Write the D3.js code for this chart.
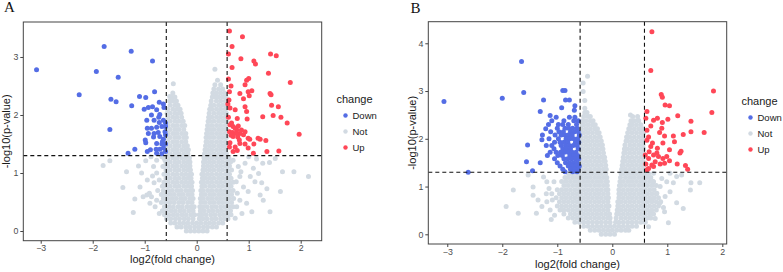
<!DOCTYPE html>
<html>
<head>
<meta charset="utf-8">
<script src="https://cdn.jsdelivr.net/npm/d3@7"></script>
<style>
  html, body { margin: 0; padding: 0; background: #fff; }
  svg { display: block; font-family: "Liberation Sans", Arial, Helvetica, sans-serif; }
</style>
</head>
<body>
<svg id="chart" width="783" height="272"></svg>
<script>
// ---------------- data ----------------
const changeLevels = ["Down", "Not", "Up"];
const xTicks = [-3, -2, -1, 0, 1, 2];
const yTicksA = [0, 1, 2, 3];
const yTicksB = [0, 1, 2, 3, 4];
const fcCut = 0.585;   // |log2 FC| threshold
const pCut = 1.3;      // -log10(0.05)

// panel A
const downA = [
  [-3.08, 2.78], [-1.78, 3.18], [-1.26, 3.10], [-0.85, 2.93], [-1.93, 2.75], [-1.51, 2.65],
  [-2.26, 2.35], [-1.65, 2.27], [-1.55, 2.23], [-1.25, 2.16], [-1.10, 2.32], [-0.98, 2.30],
  [-0.81, 2.40], [-1.67, 1.75], [-1.32, 1.34], [-1.19, 1.41],
  [-1.01, 2.10], [-0.93, 2.13], [-0.85, 2.14], [-0.72, 2.22], [-0.64, 2.19], [-0.63, 2.13],
  [-0.77, 2.09], [-0.71, 2.01], [-0.87, 2.00], [-0.82, 1.91], [-0.96, 1.91], [-0.64, 1.91],
  [-0.77, 1.79], [-0.67, 1.80], [-0.95, 1.77], [-0.87, 1.77], [-0.74, 1.70], [-0.61, 1.71],
  [-0.83, 1.62], [-0.71, 1.63], [-0.64, 1.58], [-0.99, 1.57], [-0.98, 1.52], [-0.77, 1.51],
  [-0.67, 1.50], [-0.60, 1.50], [-0.89, 1.40], [-0.95, 1.37], [-0.78, 1.41], [-0.71, 1.41],
  [-0.64, 1.43], [-0.60, 1.37], [-0.77, 1.34], [-0.67, 1.33], [-0.60, 1.66], [-0.66, 1.54],
  [-0.60, 1.80], [-0.93, 1.68], [-0.82, 1.68], [-0.72, 1.87], [-0.60, 1.86], [-0.73, 1.96]
];
const upA = [
  [0.63, 3.45], [0.88, 3.35], [0.68, 3.18], [0.61, 3.05], [0.85, 2.97], [0.68, 2.82],
  [0.61, 2.62], [0.96, 2.60], [1.00, 2.63], [0.93, 2.52], [0.66, 2.50], [0.63, 2.40],
  [0.83, 2.37], [0.99, 2.40], [0.90, 2.28], [0.62, 2.26], [0.60, 2.19], [0.64, 2.12],
  [0.74, 2.09], [0.93, 2.14], [0.96, 2.06], [0.78, 1.94], [0.97, 1.93], [0.61, 1.96],
  [0.64, 1.83], [0.70, 1.80], [0.77, 1.74], [0.63, 1.71], [0.69, 1.70], [0.83, 1.68],
  [0.90, 1.66], [0.70, 1.63], [0.79, 1.62], [0.64, 1.52], [0.83, 1.51], [0.99, 1.60],
  [1.10, 1.50], [1.18, 1.60], [1.02, 1.58], [0.74, 1.45], [0.78, 1.39], [0.93, 1.50],
  [0.70, 1.37], [1.42, 3.05], [1.53, 3.02], [1.10, 2.93], [1.13, 2.88], [1.38, 2.72],
  [1.80, 2.56], [1.41, 2.37], [1.43, 2.35], [1.44, 2.17], [1.57, 2.14], [1.27, 1.97],
  [1.47, 1.99], [1.62, 1.96], [1.74, 1.86], [1.97, 1.67], [1.33, 1.56], [1.58, 1.38],
  [1.35, 1.37], [1.22, 1.58], [1.06, 2.42], [1.01, 2.33], [0.67, 1.86], [0.74, 1.77],
  [0.80, 1.81], [0.86, 1.74], [0.66, 1.65], [0.76, 1.68], [0.82, 1.57], [0.93, 1.71],
  [0.63, 1.45], [0.99, 1.43], [1.09, 1.34]
];
const notA = [
  [-1.80, 1.13], [-1.67, 1.21], [-1.35, 1.02], [-1.42, 0.75], [-1.19, 0.55], [-1.22, 0.32],
  [-1.09, 0.76], [-1.06, 1.00], [-1.03, 0.59], [-0.96, 0.62], [-0.91, 0.65], [-0.87, 0.59],
  [-0.98, 1.21], [-0.88, 1.28], [-0.83, 1.11], [-0.77, 1.00], [-0.72, 0.88], [-0.82, 0.83],
  [-0.95, 0.88], [-0.90, 0.48], [-0.80, 0.42], [-0.77, 0.53], [-0.72, 0.30], [-0.65, 1.11],
  [-0.61, 1.22], [-0.67, 1.28], [-0.77, 1.22], [-0.75, 0.70], [-0.85, 0.95], [-1.12, 1.12],
  [-0.45, 2.54], [0.35, 2.79], [-0.52, 2.32],
  [1.15, 1.24], [1.27, 1.17], [1.40, 1.18], [1.51, 1.25], [1.65, 1.02], [1.87, 1.02],
  [2.15, 0.94], [1.61, 0.68], [1.41, 0.33], [1.06, 0.33], [1.09, 1.08], [1.19, 0.99],
  [1.03, 0.94], [1.12, 0.85], [1.25, 0.83], [1.35, 0.73], [1.22, 0.62], [0.99, 0.68],
  [0.90, 0.76], [0.83, 0.53], [0.96, 0.48], [0.77, 0.42], [0.87, 0.30], [0.74, 0.22],
  [0.80, 1.11], [0.93, 1.17], [0.70, 1.22], [1.00, 1.28], [0.83, 0.94], [1.28, 0.53],
  [0.78, 0.65], [0.85, 1.02], [0.76, 0.85]
];
// dense "Not" core, one row per -log10(p) level: [y, [x, ...]]
const notBandA = [
  [0.00, [-0.2, -0.12, -0.04, 0.04, 0.12, 0.2]],
  [0.07, [-0.38, -0.3, -0.21, -0.13, -0.04, 0.04, 0.13, 0.21, 0.3, 0.38]],
  [0.14, [-0.5, -0.42, -0.33, -0.25, -0.17, -0.08, 0, 0.08, 0.17, 0.25, 0.33, 0.42, 0.5]],
  [0.21, [-0.58, -0.5, -0.41, -0.33, -0.24, -0.16, -0.07, 0.05, 0.12, 0.2, 0.29, 0.37, 0.46, 0.54, 0.6]],
  [0.28, [-0.62, -0.54, -0.45, -0.37, -0.28, -0.2, -0.11, -0.04, 0.05, 0.1, 0.18, 0.27, 0.35, 0.44, 0.52, 0.6, 0.66]],
  [0.35, [-0.66, -0.58, -0.49, -0.41, -0.32, -0.24, -0.15, -0.07, 0.07, 0.14, 0.23, 0.31, 0.4, 0.48, 0.57, 0.65]],
  [0.42, [-0.62, -0.53, -0.45, -0.36, -0.28, -0.19, -0.11, -0.05, 0.06, 0.12, 0.2, 0.29, 0.37, 0.46, 0.54, 0.63, 0.7]],
  [0.49, [-0.68, -0.6, -0.51, -0.43, -0.34, -0.26, -0.17, -0.09, 0.08, 0.16, 0.25, 0.33, 0.42, 0.5, 0.59, 0.67]],
  [0.56, [-0.64, -0.56, -0.47, -0.39, -0.3, -0.22, -0.13, -0.07, 0.07, 0.12, 0.21, 0.29, 0.38, 0.46, 0.55, 0.63, 0.71]],
  [0.63, [-0.68, -0.6, -0.51, -0.43, -0.34, -0.26, -0.17, -0.09, 0.09, 0.16, 0.25, 0.33, 0.42, 0.5, 0.59, 0.67]],
  [0.70, [-0.64, -0.55, -0.47, -0.38, -0.3, -0.21, -0.13, -0.08, 0.08, 0.12, 0.21, 0.29, 0.38, 0.46, 0.55, 0.63, 0.7]],
  [0.77, [-0.66, -0.59, -0.51, -0.42, -0.34, -0.25, -0.17, -0.1, 0.1, 0.16, 0.25, 0.33, 0.42, 0.5, 0.59, 0.66]],
  [0.84, [-0.63, -0.55, -0.46, -0.38, -0.29, -0.21, -0.13, -0.09, 0.09, 0.13, 0.21, 0.29, 0.38, 0.46, 0.55, 0.63, 0.7]],
  [0.91, [-0.59, -0.51, -0.42, -0.34, -0.25, -0.17, -0.11, 0.11, 0.17, 0.25, 0.33, 0.42, 0.5, 0.59, 0.66]],
  [0.98, [-0.63, -0.55, -0.46, -0.38, -0.29, -0.21, -0.13, -0.1, 0.1, 0.13, 0.21, 0.29, 0.38, 0.46, 0.55, 0.63]],
  [1.05, [-0.59, -0.51, -0.42, -0.34, -0.25, -0.17, -0.12, 0.12, 0.17, 0.25, 0.33, 0.42, 0.5, 0.59, 0.67]],
  [1.12, [-0.62, -0.55, -0.46, -0.38, -0.29, -0.21, -0.13, 0.13, 0.21, 0.29, 0.38, 0.46, 0.55, 0.63]],
  [1.19, [-0.59, -0.51, -0.42, -0.34, -0.25, -0.17, -0.13, 0.13, 0.17, 0.25, 0.33, 0.42, 0.5, 0.59, 0.65]],
  [1.26, [-0.63, -0.55, -0.46, -0.38, -0.29, -0.21, -0.14, 0.14, 0.21, 0.29, 0.38, 0.46, 0.55, 0.62]],
  [1.33, [-0.56, -0.51, -0.42, -0.34, -0.25, -0.17, 0.15, 0.17, 0.25, 0.33, 0.42, 0.5, 0.57]],
  [1.40, [-0.58, -0.55, -0.46, -0.38, -0.29, -0.21, -0.16, 0.16, 0.21, 0.29, 0.38, 0.46, 0.55]],
  [1.47, [-0.57, -0.51, -0.42, -0.34, -0.25, -0.18, 0.17, 0.25, 0.33, 0.42, 0.5, 0.57]],
  [1.54, [-0.55, -0.46, -0.38, -0.29, -0.21, 0.18, 0.21, 0.29, 0.38, 0.46, 0.55]],
  [1.61, [-0.57, -0.51, -0.42, -0.34, -0.25, -0.2, 0.18, 0.25, 0.33, 0.42, 0.5, 0.57]],
  [1.68, [-0.55, -0.46, -0.38, -0.29, -0.21, 0.19, 0.21, 0.29, 0.38, 0.46, 0.55]],
  [1.75, [-0.57, -0.51, -0.42, -0.34, -0.25, 0.2, 0.25, 0.33, 0.42, 0.5, 0.57]],
  [1.82, [-0.55, -0.46, -0.38, -0.29, -0.23, 0.21, 0.29, 0.38, 0.46, 0.55]],
  [1.89, [-0.57, -0.51, -0.42, -0.34, -0.26, 0.22, 0.25, 0.33, 0.42, 0.5, 0.57]],
  [1.96, [-0.55, -0.46, -0.38, -0.29, 0.23, 0.29, 0.38, 0.46, 0.55]],
  [2.03, [-0.57, -0.51, -0.42, -0.34, -0.3, 0.24, 0.33, 0.42, 0.5, 0.57]],
  [2.10, [-0.56, -0.46, -0.38, -0.32, 0.25, 0.29, 0.38, 0.46, 0.55]],
  [2.17, [-0.51, -0.42, -0.36, 0.27, 0.33, 0.42, 0.5, 0.57]],
  [2.24, [-0.52, -0.46, -0.39, 0.28, 0.38, 0.46, 0.55]],
  [2.31, [-0.49, -0.42, 0.3, 0.36, 0.42, 0.5, 0.56]],
  [2.38, [-0.46, 0.31, 0.38, 0.46, 0.54]],
  [2.45, [0.33, 0.42, 0.5]],
  [2.52, [0.35, 0.46]],
  [2.60, [0.4]]
];

// panel B
const downB = [
  [-3.06, 2.78], [-1.65, 3.62], [-2.00, 2.85], [-1.61, 2.97], [-2.62, 1.30], [-1.25, 2.81],
  [-1.31, 2.57], [-1.54, 1.87], [-1.56, 1.52], [-1.45, 1.33], [-1.31, 1.50], [-1.28, 1.98],
  [-1.21, 2.21], [-1.27, 2.08], [-1.13, 2.49], [-0.90, 3.01], [-0.86, 3.01], [-0.92, 2.65],
  [-0.85, 2.81], [-0.78, 2.81], [-0.68, 2.69], [-0.69, 2.60]
];
const downBandB = [
  [2.45, [-1.02, -0.78, -0.68]],
  [2.38, [-1.1, -0.88, -0.7, -0.62]],
  [2.30, [-1.16, -0.98, -0.9, -0.8, -0.65]],
  [2.22, [-1.0, -0.86, -0.79, -0.72, -0.64]],
  [2.15, [-1.12, -0.97, -0.89, -0.76, -0.69, -0.62]],
  [2.08, [-1.04, -0.93, -0.86, -0.8, -0.73, -0.6]],
  [2.00, [-1.15, -0.98, -0.84, -0.77, -0.7, -0.63]],
  [1.93, [-1.05, -0.95, -0.88, -0.81, -0.67, -0.61]],
  [1.86, [-1.2, -1.1, -0.93, -0.85, -0.78, -0.71, -0.64]],
  [1.79, [-1.06, -0.9, -0.83, -0.76, -0.62]],
  [1.72, [-1.13, -1.02, -0.94, -0.87, -0.8, -0.73, -0.66]],
  [1.65, [-1.18, -0.99, -0.91, -0.77, -0.7, -0.63]],
  [1.58, [-1.05, -0.88, -0.81, -0.74, -0.67, -0.61]],
  [1.50, [-1.0, -0.85, -0.78, -0.71, -0.64]],
  [1.43, [-0.95, -0.8, -0.73, -0.66, -0.6]],
  [1.36, [-0.9, -0.76, -0.69, -0.62]],
  [1.31, [-0.86, -0.72, -0.64]]
];
const upB = [
  [0.72, 4.24], [0.70, 3.43], [0.89, 2.93], [0.91, 2.87], [0.96, 2.71], [1.04, 2.69],
  [1.84, 3.00], [1.81, 2.55], [0.63, 2.57], [0.61, 2.43], [0.75, 2.39], [0.82, 2.43],
  [1.01, 2.41], [1.19, 2.48], [1.43, 2.37], [0.91, 2.34], [0.70, 2.27], [0.90, 2.22],
  [1.43, 2.15], [1.67, 2.13], [1.29, 2.09], [0.86, 2.13], [0.95, 2.06], [1.11, 2.06],
  [0.63, 2.18], [0.66, 2.04], [0.73, 1.91], [0.92, 1.91], [1.13, 1.94], [0.82, 1.80],
  [1.04, 1.77], [1.25, 1.74], [1.23, 1.70], [0.67, 1.73], [0.75, 1.66], [0.84, 1.63],
  [0.92, 1.59], [0.66, 1.59], [0.78, 1.52], [0.87, 1.47], [1.04, 1.54], [1.18, 1.47],
  [1.33, 1.44], [1.37, 1.36], [0.66, 1.38], [0.72, 1.45], [0.61, 1.47], [0.60, 1.66],
  [0.81, 1.70], [0.99, 1.63], [0.95, 1.49], [0.70, 1.84], [0.63, 1.97], [0.75, 1.42],
  [0.63, 1.35]
];
const notB = [
  [-1.80, 0.93], [-1.93, 0.58], [-1.71, 0.44], [-1.53, 1.24], [-1.44, 0.99], [-1.44, 0.82],
  [-1.35, 0.72], [-1.28, 0.58], [-1.38, 0.44], [-1.13, 0.51], [-1.19, 0.68], [-1.09, 0.72],
  [-1.19, 1.10], [-1.06, 1.10], [-1.15, 0.96], [-1.11, 0.31], [-1.25, 1.20], [-1.10, 0.85],
  [-1.05, 0.40], [-1.20, 0.85],
  [-0.45, 3.31], [-0.53, 3.17], [-0.53, 2.99], [-0.50, 2.80], [0.33, 2.50], [0.47, 2.39],
  [1.43, 1.08], [1.59, 1.08], [1.42, 0.93], [1.29, 0.54], [1.17, 0.66], [1.02, 0.24],
  [0.93, 0.56], [0.95, 0.47], [1.05, 1.28], [1.17, 1.21], [1.26, 1.24], [1.11, 1.08],
  [0.75, 1.10], [0.87, 1.00], [0.81, 0.86], [0.72, 0.72], [0.86, 0.65], [0.69, 0.44],
  [0.78, 0.33], [0.66, 0.16], [0.96, 0.79], [1.05, 0.89], [0.90, 1.17], [0.99, 1.10],
  [0.75, 1.28]
];
const notBandB = [
  [0.000, [-0.2, -0.12, -0.04, 0.04]],
  [0.085, [-0.4, -0.32, -0.24, -0.16, -0.08, 0, 0.08, 0.16, 0.24, 0.3]],
  [0.170, [-0.52, -0.44, -0.36, -0.28, -0.2, -0.12, -0.04, 0.04, 0.12, 0.2, 0.28, 0.36, 0.44]],
  [0.255, [-0.68, -0.6, -0.52, -0.44, -0.36, -0.28, -0.2, -0.12, -0.04, 0.06, 0.12, 0.2, 0.28, 0.36, 0.44, 0.52, 0.6]],
  [0.340, [-0.8, -0.72, -0.64, -0.56, -0.48, -0.4, -0.32, -0.24, -0.16, -0.08, -0.04, 0.07, 0.16, 0.24, 0.32, 0.4, 0.48, 0.56, 0.64, 0.7]],
  [0.425, [-0.88, -0.76, -0.68, -0.6, -0.52, -0.44, -0.36, -0.28, -0.2, -0.12, -0.05, 0.08, 0.12, 0.2, 0.28, 0.36, 0.44, 0.52, 0.6, 0.68, 0.75]],
  [0.510, [-0.95, -0.88, -0.8, -0.72, -0.64, -0.56, -0.48, -0.4, -0.32, -0.24, -0.16, -0.08, 0.09, 0.16, 0.24, 0.32, 0.4, 0.48, 0.56, 0.64, 0.72, 0.8]],
  [0.595, [-1.0, -0.92, -0.84, -0.76, -0.68, -0.6, -0.52, -0.44, -0.36, -0.28, -0.2, -0.12, -0.06, 0.1, 0.12, 0.2, 0.28, 0.36, 0.44, 0.52, 0.6, 0.68, 0.76, 0.84]],
  [0.680, [-0.96, -0.88, -0.8, -0.72, -0.64, -0.56, -0.48, -0.4, -0.32, -0.24, -0.16, -0.08, 0.1, 0.16, 0.24, 0.32, 0.4, 0.48, 0.56, 0.64, 0.72, 0.8, 0.88]],
  [0.765, [-1.02, -0.92, -0.84, -0.76, -0.68, -0.6, -0.52, -0.44, -0.36, -0.28, -0.2, -0.12, -0.07, 0.12, 0.2, 0.28, 0.36, 0.44, 0.52, 0.6, 0.68, 0.76, 0.84]],
  [0.850, [-0.96, -0.88, -0.8, -0.72, -0.64, -0.56, -0.48, -0.4, -0.32, -0.24, -0.16, -0.08, 0.12, 0.16, 0.24, 0.32, 0.4, 0.48, 0.56, 0.64, 0.72, 0.8]],
  [0.935, [-1.0, -0.92, -0.84, -0.76, -0.68, -0.6, -0.52, -0.44, -0.36, -0.28, -0.2, -0.12, -0.08, 0.12, 0.2, 0.28, 0.36, 0.44, 0.52, 0.6, 0.68, 0.76]],
  [1.020, [-0.88, -0.8, -0.72, -0.64, -0.56, -0.48, -0.4, -0.32, -0.24, -0.16, -0.09, 0.13, 0.16, 0.24, 0.32, 0.4, 0.48, 0.56, 0.64, 0.72, 0.8]],
  [1.105, [-0.92, -0.84, -0.76, -0.68, -0.6, -0.52, -0.44, -0.36, -0.28, -0.2, -0.12, -0.09, 0.14, 0.2, 0.28, 0.36, 0.44, 0.52, 0.6, 0.68, 0.74]],
  [1.190, [-0.86, -0.8, -0.72, -0.64, -0.56, -0.48, -0.4, -0.32, -0.24, -0.16, -0.1, 0.15, 0.24, 0.32, 0.4, 0.48, 0.56, 0.64, 0.7]],
  [1.275, [-0.8, -0.76, -0.68, -0.6, -0.52, -0.44, -0.36, -0.28, -0.2, -0.12, 0.16, 0.2, 0.28, 0.36, 0.44, 0.52, 0.6, 0.66]],
  [1.360, [-0.56, -0.48, -0.4, -0.32, -0.24, -0.16, -0.11, 0.17, 0.24, 0.32, 0.4, 0.48, 0.56]],
  [1.445, [-0.57, -0.52, -0.44, -0.36, -0.28, -0.2, -0.12, 0.18, 0.2, 0.28, 0.36, 0.44, 0.52, 0.57]],
  [1.530, [-0.56, -0.48, -0.4, -0.32, -0.24, -0.16, -0.13, 0.19, 0.24, 0.32, 0.4, 0.48, 0.56]],
  [1.615, [-0.57, -0.52, -0.44, -0.36, -0.28, -0.2, -0.14, 0.2, 0.28, 0.36, 0.44, 0.52, 0.57]],
  [1.700, [-0.56, -0.48, -0.4, -0.32, -0.24, -0.16, 0.21, 0.24, 0.32, 0.4, 0.48, 0.56]],
  [1.785, [-0.57, -0.52, -0.44, -0.36, -0.28, -0.2, -0.17, 0.22, 0.28, 0.36, 0.44, 0.52, 0.57]],
  [1.870, [-0.56, -0.48, -0.4, -0.32, -0.24, -0.18, 0.23, 0.32, 0.4, 0.48, 0.56]],
  [1.955, [-0.57, -0.52, -0.44, -0.36, -0.28, -0.2, 0.25, 0.28, 0.36, 0.44, 0.52, 0.57]],
  [2.040, [-0.56, -0.48, -0.4, -0.32, -0.24, -0.22, 0.26, 0.32, 0.4, 0.48, 0.56]],
  [2.125, [-0.57, -0.52, -0.44, -0.36, -0.28, -0.24, 0.28, 0.36, 0.44, 0.52, 0.57]],
  [2.210, [-0.56, -0.48, -0.4, -0.32, -0.27, 0.3, 0.32, 0.4, 0.48, 0.55]],
  [2.295, [-0.55, -0.52, -0.44, -0.36, -0.31, 0.32, 0.36, 0.44, 0.52]],
  [2.380, [-0.54, -0.48, -0.4, -0.35, 0.34, 0.4, 0.48]],
  [2.465, [-0.52, -0.44, -0.4, 0.37, 0.46]],
  [2.550, [-0.5, -0.46]],
  [2.640, [-0.5]]
];

const colors = { Down: "#546de5", Not: "#d2dae2", Up: "#ff4757" };

const rowsToPoints = rows => rows.flatMap(([y, xs]) => xs.map(x => [x, y]));

const VolcanoD3 = function(svg, series, options) {
    const { frame, xDomain, yDomain, yTicks, label, labelPos, legendPos, titleOffsetX, titleY } = options;
    const pointRadius = 2.5;

    const x = d3.scaleLinear().domain(xDomain).range([frame.left, frame.right]);
    const y = d3.scaleLinear().domain(yDomain).range([frame.bottom, frame.top]);

    // points, grey first so coloured ones sit on top
    const points = [];
    ["Not", "Down", "Up"].forEach(level => {
        series[level].forEach(([fx, py]) => points.push({ fc: fx, p: py, change: level }));
    });

    svg.append("g")
        .selectAll("circle")
        .data(points)
        .join("circle")
        .attr("cx", d => x(d.fc))
        .attr("cy", d => y(d.p))
        .attr("r", pointRadius)
        .attr("fill", d => colors[d.change]);

    // threshold lines
    const dash = svg.append("g")
        .attr("stroke", "#111")
        .attr("stroke-width", 1.1)
        .attr("stroke-dasharray", "4,3");
    [-fcCut, fcCut].forEach(v => {
        dash.append("line")
            .attr("x1", x(v)).attr("x2", x(v))
            .attr("y1", frame.top).attr("y2", frame.bottom);
    });
    dash.append("line")
        .attr("x1", frame.left).attr("x2", frame.right)
        .attr("y1", y(pCut)).attr("y2", y(pCut));

    // panel border
    svg.append("rect")
        .attr("x", frame.left).attr("y", frame.top)
        .attr("width", frame.right - frame.left)
        .attr("height", frame.bottom - frame.top)
        .attr("fill", "none")
        .attr("stroke", "#444")
        .attr("stroke-width", 1);

    // axes
    const xAxis = svg.append("g")
        .attr("transform", `translate(0,${frame.bottom})`)
        .call(d3.axisBottom(x).tickValues(xTicks).tickSize(3).tickPadding(1.5).tickFormat(d3.format("d")));
    const yAxis = svg.append("g")
        .attr("transform", `translate(${frame.left},0)`)
        .call(d3.axisLeft(y).tickValues(yTicks).tickSize(3).tickPadding(2).tickFormat(d3.format("d")));

    [xAxis, yAxis].forEach(a => {
        a.select(".domain").remove();
        a.selectAll(".tick line").attr("stroke", "#444");
        a.selectAll(".tick text")
            .attr("fill", "#4d4d4d")
            .style("font-size", "8.8px")
            .style("font-family", "'Liberation Sans', Arial, sans-serif");
    });

    // axis titles
    svg.append("text")
        .attr("x", (frame.left + frame.right) / 2)
        .attr("y", titleY)
        .attr("text-anchor", "middle")
        .attr("dominant-baseline", "central")
        .attr("fill", "#1a1a1a")
        .style("font-size", "11px")
        .text("log2(fold change)");

    svg.append("text")
        .attr("transform", `translate(${titleOffsetX},${(frame.top + frame.bottom) / 2}) rotate(-90)`)
        .attr("text-anchor", "middle")
        .attr("dominant-baseline", "central")
        .attr("fill", "#1a1a1a")
        .style("font-size", "11px")
        .text("-log10(p-value)");

    // panel letter
    svg.append("text")
        .attr("x", labelPos[0])
        .attr("y", labelPos[1])
        .attr("fill", "#111")
        .style("font-family", "'Liberation Serif', 'Times New Roman', serif")
        .style("font-size", "15px")
        .text(label);

    // legend
    const lg = svg.append("g").attr("transform", `translate(${legendPos[0]},${legendPos[1]})`);
    lg.append("text")
        .attr("x", 0).attr("y", 0)
        .attr("dominant-baseline", "central")
        .attr("fill", "#1a1a1a")
        .style("font-size", "11px")
        .text("change");
    const item = lg.selectAll("g.item")
        .data(changeLevels)
        .join("g")
        .attr("class", "item")
        .attr("transform", (d, i) => `translate(0,${17 + i * 16})`);
    item.append("circle")
        .attr("cx", 9).attr("cy", 0)
        .attr("r", 2.2)
        .attr("fill", d => colors[d]);
    item.append("text")
        .attr("x", 16).attr("y", 0)
        .attr("dominant-baseline", "central")
        .attr("fill", "#1a1a1a")
        .style("font-size", "9.5px")
        .text(d => d);
};

const svg = d3.select("#chart");

VolcanoD3(svg.append("g"), {
    Not: notA.concat(rowsToPoints(notBandA)),
    Down: downA,
    Up: upA
}, {
    frame: { left: 23.3, right: 321.7, top: 22, bottom: 240.7 },
    xDomain: [-3.335, 2.404],
    yDomain: [-0.167, 3.603],
    yTicks: yTicksA,
    label: "A",
    labelPos: [4, 12],
    legendPos: [336.5, 98.5],
    titleOffsetX: 6,
    titleY: 258.5
});

VolcanoD3(svg.append("g"), {
    Not: notB.concat(rowsToPoints(notBandB)),
    Down: downB.concat(rowsToPoints(downBandB)),
    Up: upB
}, {
    frame: { left: 428.3, right: 726.7, top: 21.7, bottom: 244 },
    xDomain: [-3.345, 2.08],
    yDomain: [-0.203, 4.452],
    yTicks: yTicksB,
    label: "B",
    labelPos: [410.5, 13],
    legendPos: [741.5, 100.5],
    titleOffsetX: 412,
    titleY: 264
});
</script>
</body>
</html>
